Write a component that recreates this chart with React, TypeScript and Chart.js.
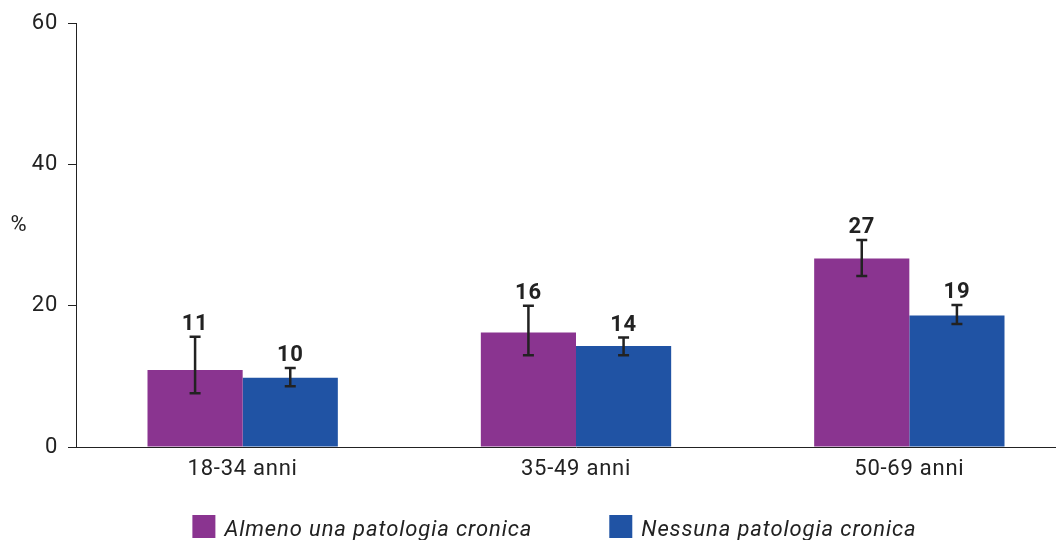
import React, { useEffect, useRef } from "react";
import { Chart, registerables } from "chart.js";

Chart.register(...registerables);

const categories = ["18-34 anni", "35-49 anni", "50-69 anni"];
const seriesNames = ["Almeno una patologia cronica", "Nessuna patologia cronica"];
const almenoValues = [10.9, 16.2, 26.7];
const almenoLow = [7.6, 13.0, 24.2];
const almenoHigh = [15.6, 20.0, 29.3];
const nessunaValues = [9.8, 14.3, 18.6];
const nessunaLow = [8.6, 13.0, 17.4];
const nessunaHigh = [11.2, 15.5, 20.1];
const yTicks = [0, 20, 40, 60];
const seriesColors = ["#8a3490", "#2053a4"];

const FONT = "Roboto, 'DejaVu Sans', sans-serif";
const INK = "#222222";
const SPACING = "0.75px";
const LEGEND_SPACING = "0.88px";
const CANVAS_W = 1109;
const CANVAS_H = 540;

const spacingPlugin = {
  id: "spacing",
  beforeInit(chart: any) {
    chart.ctx.letterSpacing = SPACING;
  },
  beforeUpdate(chart: any) {
    chart.ctx.letterSpacing = SPACING;
  },
  beforeDraw(chart: any) {
    chart.ctx.letterSpacing = SPACING;
  },
};

const errorBarsPlugin = {
  id: "errorBars",
  afterDatasetsDraw(chart: any) {
    const ctx = chart.ctx;
    const yScale = chart.scales.y;
    ctx.save();
    chart.data.datasets.forEach((ds: any, i: number) => {
      const meta = chart.getDatasetMeta(i);
      meta.data.forEach((el: any, j: number) => {
        const x = el.x;
        const yH = yScale.getPixelForValue(ds.errHigh[j]);
        const yL = yScale.getPixelForValue(ds.errLow[j]);
        ctx.strokeStyle = INK;
        ctx.lineWidth = 2.5;
        ctx.beginPath();
        ctx.moveTo(x, yH);
        ctx.lineTo(x, yL);
        ctx.moveTo(x - 5.5, yH);
        ctx.lineTo(x + 5.5, yH);
        ctx.moveTo(x - 5.5, yL);
        ctx.lineTo(x + 5.5, yL);
        ctx.stroke();
        ctx.fillStyle = INK;
        ctx.font = `bold 22px ${FONT}`;
        ctx.textAlign = "center";
        ctx.textBaseline = "alphabetic";
        ctx.fillText(String(Math.round(ds.data[j])), x, yH - 7);
      });
    });
    ctx.restore();
  },
};

const extrasPlugin = {
  id: "extras",
  afterDraw(chart: any) {
    const ctx = chart.ctx;
    const yScale = chart.scales.y;
    ctx.save();
    // axis unit
    ctx.fillStyle = INK;
    ctx.font = `22px ${FONT}`;
    ctx.textAlign = "center";
    ctx.textBaseline = "middle";
    ctx.fillText("%", chart.chartArea.left - 57, yScale.getPixelForValue(30) - 10);

    // legend
    ctx.letterSpacing = LEGEND_SPACING;
    ctx.font = `italic 22px ${FONT}`;
    const box = 23;
    const textGap = 9;
    const itemGap = 77;
    const widths = chart.data.datasets.map((ds: any) => ctx.measureText(ds.label).width);
    const total = widths.reduce((a: number, w: number) => a + box + textGap + w, 0) + itemGap * (widths.length - 1);
    let x = chart.width / 2 - total / 2;
    const boxTop = chart.height - 25;
    chart.data.datasets.forEach((ds: any, i: number) => {
      ctx.fillStyle = ds.backgroundColor;
      ctx.fillRect(x, boxTop, box, box);
      ctx.fillStyle = INK;
      ctx.textAlign = "left";
      ctx.textBaseline = "alphabetic";
      ctx.fillText(ds.label, x + box + textGap, boxTop + 21);
      x += box + textGap + widths[i] + itemGap;
    });
    ctx.restore();
    ctx.letterSpacing = SPACING;
  },
};

export default function App() {
  const ref = useRef<HTMLCanvasElement | null>(null);

  useEffect(() => {
    if (!ref.current) return;
    const chart = new Chart(ref.current, {
      type: "bar",
      data: {
        labels: categories,
        datasets: [
          {
            label: seriesNames[0],
            data: almenoValues,
            errLow: almenoLow,
            errHigh: almenoHigh,
            backgroundColor: seriesColors[0],
            borderWidth: 0,
            categoryPercentage: 0.571,
            barPercentage: 1.0,
          } as any,
          {
            label: seriesNames[1],
            data: nessunaValues,
            errLow: nessunaLow,
            errHigh: nessunaHigh,
            backgroundColor: seriesColors[1],
            borderWidth: 0,
            categoryPercentage: 0.571,
            barPercentage: 1.0,
          } as any,
        ],
      },
      options: {
        responsive: false,
        animation: false,
        devicePixelRatio: 1,
        layout: { padding: { top: 21, left: 0, right: 33, bottom: 53 } },
        plugins: {
          legend: { display: false },
          tooltip: { enabled: false },
        },
        scales: {
          x: {
            grid: { display: false, drawTicks: false },
            border: { display: true, color: INK, width: 1 },
            ticks: { color: INK, font: { family: FONT, size: 22 }, padding: 9 },
            afterFit: (s: any) => {
              s.height = 40;
            },
          },
          y: {
            min: 0,
            max: 60,
            afterBuildTicks: (s: any) => {
              s.ticks = yTicks.map((v) => ({ value: v }));
            },
            afterFit: (s: any) => {
              s.width = 76;
            },
            ticks: { color: INK, font: { family: FONT, size: 22 }, padding: 10 },
            grid: {
              display: true,
              drawOnChartArea: false,
              drawTicks: true,
              tickLength: 8,
              color: INK,
              lineWidth: 1,
            },
            border: { display: true, color: INK, width: 1 },
          },
        },
      },
      plugins: [spacingPlugin, errorBarsPlugin, extrasPlugin],
    } as any);
    return () => chart.destroy();
  }, []);

  return (
    <div
      style={{
        position: "fixed",
        left: 0,
        top: 0,
        width: 1056,
        height: 540,
        overflow: "hidden",
        background: "#fff",
      }}
    >
      <canvas ref={ref} width={CANVAS_W} height={CANVAS_H} style={{ display: "block" }} />
    </div>
  );
}
